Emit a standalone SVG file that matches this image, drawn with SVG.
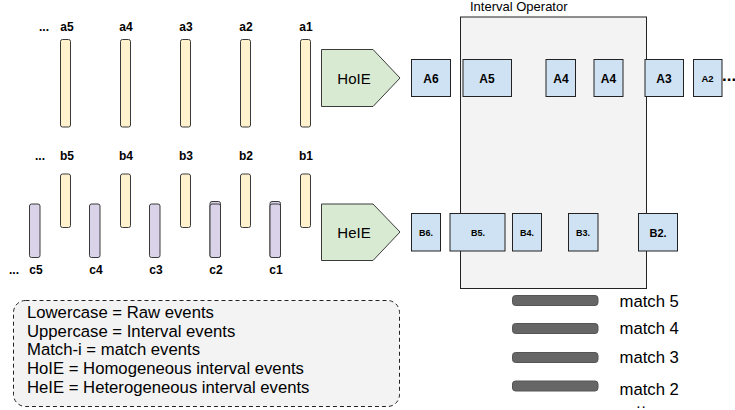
<svg xmlns="http://www.w3.org/2000/svg" width="735" height="410" viewBox="0 0 735 410">
  <style>
    text { font-family: "Liberation Sans", Arial, sans-serif; fill: #000; }
    .lbl { font-size: 12px; font-weight: bold; text-anchor: middle; }
    .raw { fill: #fff2cc; stroke: #3a3a3a; stroke-width: 1; }
    .rawc { fill: #d9d2e9; stroke: #3a3a3a; stroke-width: 1; }
    .conv { fill: #d9ead3; stroke: #3a3a3a; stroke-width: 1; }
    .ival { fill: #cfe2f3; stroke: #222; stroke-width: 1; }
    .ilbl { font-weight: bold; text-anchor: middle; }
    .op { fill: #f3f3f3; stroke: #222; stroke-width: 1; }
    .match { fill: #666; stroke: #555; stroke-width: 1; }
    .mtxt { font-size: 16.7px; }
    .leg { font-size: 16.7px; }
  </style>

  <!-- operator region (drawn first so interval boxes sit on top) -->
  <g id="interval-operator">
    <rect class="op" x="460.5" y="17" width="186" height="271.5"/>
    <text x="470" y="11" font-size="13">Interval Operator</text>
  </g>

  <!-- raw event stream a -->
  <g id="stream-a">
    <text class="lbl" x="44" y="30.5">...</text>
    <g id="a5"><rect class="raw" x="60.5" y="39.5" width="10" height="87.5" rx="2"/><text class="lbl" x="67" y="30.5">a5</text></g>
    <g id="a4"><rect class="raw" x="120.5" y="39.5" width="10" height="87.5" rx="2"/><text class="lbl" x="126" y="30.5">a4</text></g>
    <g id="a3"><rect class="raw" x="180.5" y="39.5" width="10" height="87.5" rx="2"/><text class="lbl" x="186" y="30.5">a3</text></g>
    <g id="a2"><rect class="raw" x="240.5" y="39.5" width="10" height="87.5" rx="2"/><text class="lbl" x="246" y="30.5">a2</text></g>
    <g id="a1"><rect class="raw" x="300.5" y="39.5" width="10" height="87.5" rx="2"/><text class="lbl" x="306" y="30.5">a1</text></g>
  </g>

  <!-- raw event stream b -->
  <g id="stream-b">
    <text class="lbl" x="40" y="160">...</text>
    <g id="b5"><rect class="raw" x="60.5" y="174" width="10" height="53.5" rx="2"/><text class="lbl" x="67" y="160">b5</text></g>
    <g id="b4"><rect class="raw" x="120.5" y="174" width="10" height="53.5" rx="2"/><text class="lbl" x="126" y="160">b4</text></g>
    <g id="b3"><rect class="raw" x="180.5" y="174" width="10" height="53.5" rx="2"/><text class="lbl" x="186" y="160">b3</text></g>
    <g id="b2"><rect class="raw" x="240.5" y="174" width="10" height="53.5" rx="2"/><text class="lbl" x="246" y="160">b2</text></g>
    <g id="b1"><rect class="raw" x="300.5" y="174" width="10" height="53.5" rx="2"/><text class="lbl" x="306" y="160">b1</text></g>
  </g>

  <!-- raw event stream c -->
  <g id="stream-c">
    <text class="lbl" x="14" y="274">...</text>
    <g id="c5"><rect class="rawc" x="29.5" y="204" width="10.5" height="53.5" rx="2"/><text class="lbl" x="36" y="274">c5</text></g>
    <g id="c4"><rect class="rawc" x="89.5" y="204" width="10.5" height="53.5" rx="2"/><text class="lbl" x="96" y="274">c4</text></g>
    <g id="c3"><rect class="rawc" x="149.5" y="204" width="10.5" height="53.5" rx="2"/><text class="lbl" x="156" y="274">c3</text></g>
    <g id="c2">
      <rect class="rawc" x="210" y="201.5" width="10.5" height="56" rx="2"/>
      <rect class="rawc" x="210" y="204" width="10.5" height="53.5" rx="2"/>
      <text class="lbl" x="216" y="274">c2</text>
    </g>
    <g id="c1">
      <rect class="rawc" x="270" y="201.5" width="10.5" height="56" rx="2"/>
      <rect class="rawc" x="270" y="204" width="10.5" height="53.5" rx="2"/>
      <text class="lbl" x="276" y="274">c1</text>
    </g>
  </g>

  <!-- interval event builders -->
  <g id="hoie">
    <polygon class="conv" points="321.5,49.5 373,49.5 400,78 373,106.5 321.5,106.5"/>
    <text x="354" y="83.5" font-size="15" text-anchor="middle">HoIE</text>
  </g>
  <g id="heie">
    <polygon class="conv" points="321.5,204 373,204 400,232 373,260.5 321.5,260.5"/>
    <text x="354" y="238" font-size="15" text-anchor="middle">HeIE</text>
  </g>

  <!-- homogeneous interval events -->
  <g id="A6"><rect class="ival" x="411.5" y="59.5" width="39" height="37"/><text class="ilbl" x="431" y="82.5" font-size="12">A6</text></g>
  <g id="A5"><rect class="ival" x="463" y="59.5" width="48.5" height="37"/><text class="ilbl" x="487" y="82.5" font-size="12">A5</text></g>
  <g id="A4a"><rect class="ival" x="546" y="59.5" width="29.5" height="37"/><text class="ilbl" x="561" y="82.5" font-size="12">A4</text></g>
  <g id="A4b"><rect class="ival" x="594" y="59.5" width="29" height="37"/><text class="ilbl" x="608.5" y="82.5" font-size="12">A4</text></g>
  <g id="A3"><rect class="ival" x="645" y="59.5" width="38.5" height="37"/><text class="ilbl" x="664" y="82.5" font-size="12">A3</text></g>
  <g id="A2"><rect class="ival" x="693.5" y="59.5" width="28.5" height="37"/><text class="ilbl" x="707.5" y="81.5" font-size="9.5">A2</text></g>
  <text x="722" y="81" font-size="17" font-weight="bold">...</text>

  <!-- heterogeneous interval events -->
  <g id="B6"><rect class="ival" x="411.5" y="213.5" width="29" height="37.5"/><text class="ilbl" x="426" y="236" font-size="9">B6.</text></g>
  <g id="B5"><rect class="ival" x="450" y="213.5" width="55" height="37.5"/><text class="ilbl" x="478" y="236" font-size="9">B5.</text></g>
  <g id="B4"><rect class="ival" x="512.5" y="213.5" width="29" height="37.5"/><text class="ilbl" x="527" y="236" font-size="9">B4.</text></g>
  <g id="B3"><rect class="ival" x="568.5" y="213.5" width="29.5" height="37.5"/><text class="ilbl" x="583" y="236" font-size="9">B3.</text></g>
  <g id="B2"><rect class="ival" x="638.5" y="213.5" width="39" height="37.5"/><text class="ilbl" x="658" y="237" font-size="11">B2.</text></g>

  <!-- match events -->
  <g id="match5"><rect class="match" x="512.5" y="295.5" width="85.5" height="10" rx="3"/><text class="mtxt" x="619.5" y="306.5">match 5</text></g>
  <g id="match4"><rect class="match" x="512.5" y="323.5" width="85.5" height="10" rx="3"/><text class="mtxt" x="619.5" y="334">match 4</text></g>
  <g id="match3"><rect class="match" x="512.5" y="352.5" width="85.5" height="10" rx="3"/><text class="mtxt" x="619.5" y="363">match 3</text></g>
  <g id="match2"><rect class="match" x="512.5" y="381" width="85.5" height="10" rx="3"/><text class="mtxt" x="619.5" y="394.5">match 2</text></g>
  <text x="637" y="407.8" font-size="10" font-weight="bold" letter-spacing="2.5">..</text>

  <g id="connectors"/>

  <!-- legend -->
  <g id="legend">
    <rect x="13.5" y="300.5" width="386" height="106" rx="12" fill="#f3f3f3" stroke="#222" stroke-width="1" stroke-dasharray="4,3"/>
    <text class="leg" x="27" y="317.5">Lowercase = Raw events</text>
    <text class="leg" x="27" y="336.5">Uppercase = Interval events</text>
    <text class="leg" x="27" y="355">Match-i = match events</text>
    <text class="leg" x="27" y="373.5">HoIE = Homogeneous interval events</text>
    <text class="leg" x="27" y="392.5">HeIE = Heterogeneous interval events</text>
  </g>
</svg>
